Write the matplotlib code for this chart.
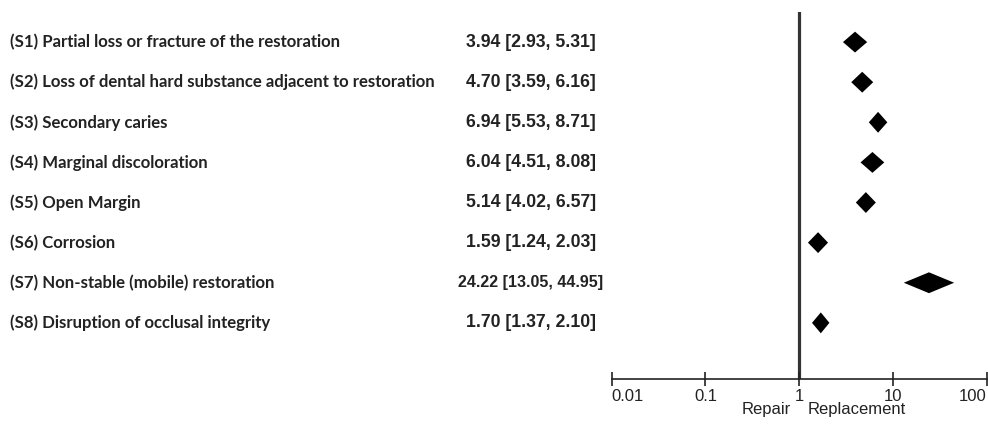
import matplotlib.pyplot as plt
from matplotlib.transforms import blended_transform_factory

# odds ratios (replacement vs repair) per reason
labels = [
    "(S1) Partial loss or fracture of the restoration",
    "(S2) Loss of dental hard substance adjacent to restoration",
    "(S3) Secondary caries",
    "(S4) Marginal discoloration",
    "(S5) Open Margin",
    "(S6) Corrosion",
    "(S7) Non-stable (mobile) restoration",
    "(S8) Disruption of occlusal integrity",
]
est = [3.94, 4.70, 6.94, 6.04, 5.14, 1.59, 24.22, 1.70]
ci_low = [2.93, 3.59, 5.53, 4.51, 4.02, 1.24, 13.05, 1.37]
ci_high = [5.31, 6.16, 8.71, 8.08, 6.57, 2.03, 44.95, 2.10]
xticks = [0.01, 0.1, 1, 10, 100]
xticklabels = ["0.01", "0.1", "1", "10", "100"]

W, H = 988, 426
fig = plt.figure(figsize=(W / 100, H / 100), dpi=100)
ax = fig.add_axes([611.7 / W, 47 / H, 375 / W, 367 / H])

ax.set_xscale("log")
ax.set_xlim(0.01, 100)
n = len(labels)
ax.set_ylim(n + 1.40, 0.25)

txt_color = "#222222"
half_h = 0.26
row_tf = blended_transform_factory(fig.transFigure, ax.transData)
for i, (lab, m, lo, hi) in enumerate(zip(labels, est, ci_low, ci_high)):
    y = i + 1
    ax.fill([lo, m, hi, m], [y, y - half_h, y, y + half_h], color="black", lw=0)
    ax.text(10 / W, y, lab, transform=row_tf, ha="left", va="center", fontsize=12.1,
            fontweight="bold", family="Lato", color=txt_color)
    val = f"{m:.2f} [{lo:.2f}, {hi:.2f}]"
    ax.text(531 / W, y, val, transform=row_tf, ha="center", va="center",
            fontsize=11.5 if len(val) > 18 else 12.7,
            fontweight="bold", family="Liberation Sans", color=txt_color)

# line of no effect
ax.axvline(1, color="#333333", lw=2.3, zorder=1)

for side in ["top", "right", "left"]:
    ax.spines[side].set_visible(False)
ax.spines["bottom"].set_linewidth(1.2)
ax.spines["bottom"].set_color("#222222")
ax.set_yticks([])
ax.set_xticks(xticks)
ax.set_xticklabels(xticklabels, family="Liberation Sans", fontsize=12, color=txt_color)
ax.minorticks_off()
ax.tick_params(axis="x", direction="inout", length=10, width=1.2, color="#222222", pad=2)
tl = ax.get_xticklabels()
tl[0].set_ha("left")
tl[-1].set_ha("right")

lab_tf = blended_transform_factory(ax.transData, ax.transAxes)
ax.text(0.82, -0.062, "Repair", transform=lab_tf, ha="right", va="top",
        fontsize=12, family="Liberation Sans", color=txt_color)
ax.text(1.22, -0.062, "Replacement", transform=lab_tf, ha="left", va="top",
        fontsize=12, family="Liberation Sans", color=txt_color)

fig.savefig("out.png", dpi=100, facecolor="white")
